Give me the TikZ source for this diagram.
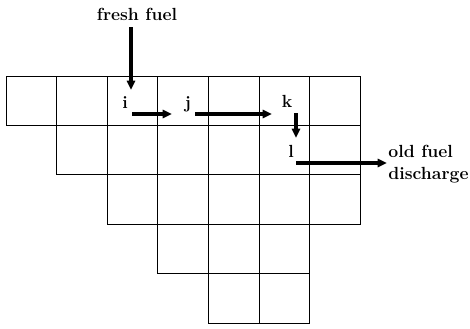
\documentclass[tikz,border=0pt]{standalone}
\usepackage{tikz}
\usetikzlibrary{arrows.meta,calc,positioning}

\begin{document}
\begin{tikzpicture}[x=0.03cm,y=-0.03cm,
  every node/.style={font=\fontsize{15}{19}\selectfont\bfseries,inner sep=1pt},
  cell/.style={draw=black,line width=0.85pt},
  flow/.style={-{Triangle[length=8pt,width=7pt]},draw=black,line width=3pt}]
  \useasboundingbox (0,0) rectangle (470,328);
  % fuel assembly grid (one eighth of the core)
  \foreach \r/\a/\b in {0/0/6,1/1/6,2/2/6,3/3/5,4/4/5}
    \foreach \c in {\a,...,\b}
      \draw[cell] (6+\c*50.6,76+\r*49.4) rectangle ++(50.6,49.4);
  % positions
  \node[anchor=base] (fresh) at (137,20) {fresh fuel};
  \node[anchor=base] (i) at (125,108) {i};
  \node[anchor=base] (j) at (188,108) {j};
  \node[anchor=base] (k) at (287,107) {k};
  \node[anchor=base] (l) at (291,157) {l};
  \node[anchor=west,align=left] (old) at (387,164) {old fuel\\discharge};
  % shuffling path
  \draw[flow] ($(fresh.base)+(-6,7)$) -- ($(i.base)+(6,-18)$);
  \draw[flow] ($(i.base)+(7,6)$) -- ($(j.base)+(-16,6)$);
  \draw[flow] ($(j.base)+(7,6)$) -- ($(k.base)+(-15,7)$);
  \draw[flow] ($(k.base)+(9,6)$) -- ($(l.base)+(5,-19)$);
  \draw[flow] ($(l.base)+(5,6)$) -- ($(old.west)+(0,-1)$);
\end{tikzpicture}
\end{document}
